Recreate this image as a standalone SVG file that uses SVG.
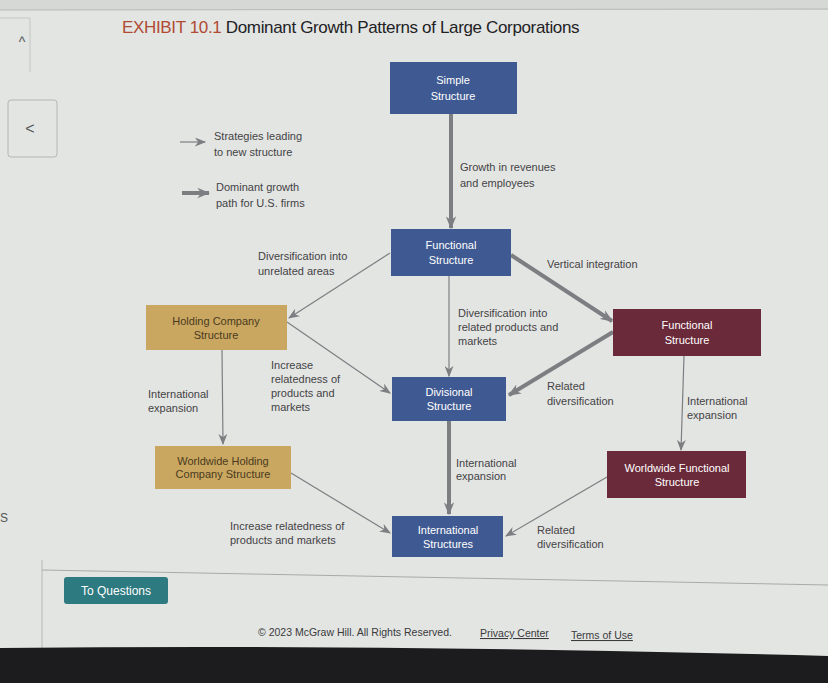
<svg xmlns="http://www.w3.org/2000/svg" width="828" height="683" viewBox="0 0 828 683">
<style>
.lbl{font-family:"Liberation Sans",Arial,sans-serif;font-size:11px;fill:#434345}
.nt{font-family:"Liberation Sans",Arial,sans-serif;font-size:11px;fill:#ffffff;text-anchor:middle}
.ntd{font-family:"Liberation Sans",Arial,sans-serif;font-size:11px;fill:#4a3a20;text-anchor:middle}
.blue{fill:#3f5a92}
.tan{fill:#c9a760}
.mar{fill:#6b2a3a}
.thin{stroke:#7c7e82;stroke-width:1.2;fill:none;marker-end:url(#ah)}
.thick{stroke:#7c7e82;stroke-width:4;fill:none;marker-end:url(#ahk)}
</style>
<defs>
<marker id="ah" viewBox="0 0 10 8" refX="9" refY="4" markerWidth="12" markerHeight="9" markerUnits="userSpaceOnUse" orient="auto">
<path d="M0,0 L10,4 L0,8 L3,4 z" fill="#7c7e82"/>
</marker>
<marker id="ahk" viewBox="0 0 10 8" refX="9" refY="4" markerWidth="13" markerHeight="11" markerUnits="userSpaceOnUse" orient="auto">
<path d="M0,0 L10,4 L0,8 L3,4 z" fill="#7c7e82"/>
</marker>
</defs>
<rect width="828" height="683" fill="#e3e5e3"/>
<rect width="828" height="10" fill="#d6d8d6"/>
<line x1="0" y1="10" x2="828" y2="9" stroke="#b8bab8" stroke-width="1"/>
<!-- sidebar -->
<path d="M0,18 L30,18 L30,72" fill="none" stroke="#c4c6c4"/>
<text x="22" y="47" font-family="Liberation Sans,Arial,sans-serif" font-size="14" fill="#555" text-anchor="middle">^</text>
<rect x="8" y="100" width="49" height="57" rx="3" fill="none" stroke="#b4b6b4"/>
<text x="30" y="134" font-family="Liberation Sans,Arial,sans-serif" font-size="16" fill="#555" text-anchor="middle">&lt;</text>
<text x="0" y="522" font-family="Liberation Sans,Arial,sans-serif" font-size="12" fill="#555">S</text>
<line x1="42" y1="560" x2="42" y2="648" stroke="#b8bab8"/>
<line x1="42" y1="570" x2="828" y2="585" stroke="#a8aaa8"/>
<!-- title -->
<text x="122" y="33" font-family="Liberation Sans,Arial,sans-serif" font-size="17" fill="#222224" letter-spacing="-0.35"><tspan fill="#b04a32">EXHIBIT 10.1</tspan> Dominant Growth Patterns of Large Corporations</text>
<!-- legend -->
<g id="legend">
<line x1="180" y1="142" x2="205" y2="142" class="thin"/>
<text class="lbl" x="214" y="140">Strategies leading</text>
<text class="lbl" x="214" y="156">to new structure</text>
<line x1="182" y1="193" x2="209" y2="193" class="thick"/>
<text class="lbl" x="216" y="191">Dominant growth</text>
<text class="lbl" x="216" y="207">path for U.S. firms</text>
</g>
<!-- connectors -->
<g id="connectors">
<line x1="451" y1="114" x2="451" y2="228" class="thick"/>
<line x1="390" y1="253" x2="289" y2="318" class="thin"/>
<line x1="511" y1="255" x2="612" y2="321" class="thick"/>
<line x1="449" y1="276" x2="449" y2="376" class="thin"/>
<line x1="613" y1="332" x2="509" y2="395" class="thick"/>
<line x1="287" y1="322" x2="390" y2="393" class="thin"/>
<line x1="222" y1="350" x2="223" y2="444" class="thin"/>
<line x1="684" y1="356" x2="681" y2="450" class="thin"/>
<line x1="449" y1="421" x2="449" y2="514" class="thick"/>
<line x1="291" y1="473" x2="390" y2="533" class="thin"/>
<line x1="607" y1="477" x2="506" y2="536" class="thin"/>
</g>
<!-- connector labels -->
<g id="labels">
<text class="lbl" x="460" y="171">Growth in revenues</text>
<text class="lbl" x="460" y="187">and employees</text>
<text class="lbl" x="258" y="260">Diversification into</text>
<text class="lbl" x="258" y="275">unrelated areas</text>
<text class="lbl" x="547" y="268">Vertical integration</text>
<text class="lbl" x="458" y="317">Diversification into</text>
<text class="lbl" x="458" y="331">related products and</text>
<text class="lbl" x="458" y="345">markets</text>
<text class="lbl" x="271" y="369">Increase</text>
<text class="lbl" x="271" y="383">relatedness of</text>
<text class="lbl" x="271" y="397">products and</text>
<text class="lbl" x="271" y="411">markets</text>
<text class="lbl" x="148" y="398">International</text>
<text class="lbl" x="148" y="412">expansion</text>
<text class="lbl" x="547" y="390">Related</text>
<text class="lbl" x="547" y="405">diversification</text>
<text class="lbl" x="687" y="405">International</text>
<text class="lbl" x="687" y="419">expansion</text>
<text class="lbl" x="456" y="467">International</text>
<text class="lbl" x="456" y="480">expansion</text>
<text class="lbl" x="230" y="530">Increase relatedness of</text>
<text class="lbl" x="230" y="544">products and markets</text>
<text class="lbl" x="537" y="534">Related</text>
<text class="lbl" x="537" y="548">diversification</text>
</g>
<!-- nodes -->
<g id="simple"><rect class="blue" x="390" y="62" width="127" height="52"/><text class="nt" x="453" y="84">Simple</text><text class="nt" x="453" y="100">Structure</text></g>
<g id="functional"><rect class="blue" x="391" y="229" width="120" height="47"/><text class="nt" x="451" y="249">Functional</text><text class="nt" x="451" y="264">Structure</text></g>
<g id="holding"><rect class="tan" x="146" y="305" width="141" height="45"/><text class="ntd" x="216" y="325">Holding Company</text><text class="ntd" x="216" y="339">Structure</text></g>
<g id="functional-maroon"><rect class="mar" x="613" y="309" width="148" height="47"/><text class="nt" x="687" y="329">Functional</text><text class="nt" x="687" y="344">Structure</text></g>
<g id="divisional"><rect class="blue" x="392" y="377" width="114" height="44"/><text class="nt" x="449" y="396">Divisional</text><text class="nt" x="449" y="410">Structure</text></g>
<g id="worldwide-holding"><rect class="tan" x="155" y="446" width="136" height="43"/><text class="ntd" x="223" y="465">Worldwide Holding</text><text class="ntd" x="223" y="478">Company Structure</text></g>
<g id="worldwide-functional"><rect class="mar" x="607" y="451" width="139" height="47"/><text class="nt" x="677" y="472">Worldwide Functional</text><text class="nt" x="677" y="486">Structure</text></g>
<g id="international"><rect class="blue" x="392" y="516" width="111" height="41"/><text class="nt" x="448" y="534">International</text><text class="nt" x="448" y="548">Structures</text></g>
<!-- footer -->
<rect x="64" y="577" width="104" height="27" rx="3" fill="#2d7a80"/>
<text x="116" y="595" font-family="Liberation Sans,Arial,sans-serif" font-size="12" fill="#ffffff" text-anchor="middle">To Questions</text>
<text x="258" y="636" font-family="Liberation Sans,Arial,sans-serif" font-size="10.5" fill="#3a3a3c">© 2023 McGraw Hill. All Rights Reserved.</text>
<text x="480" y="637" font-family="Liberation Sans,Arial,sans-serif" font-size="10.5" fill="#3a3a3c" text-decoration="underline">Privacy Center</text>
<text x="571" y="639" font-family="Liberation Sans,Arial,sans-serif" font-size="10.5" fill="#3a3a3c" text-decoration="underline">Terms of Use</text>
<path d="M0,648 Q400,644 828,656 L828,683 L0,683 z" fill="#1c1c1e"/>
</svg>
